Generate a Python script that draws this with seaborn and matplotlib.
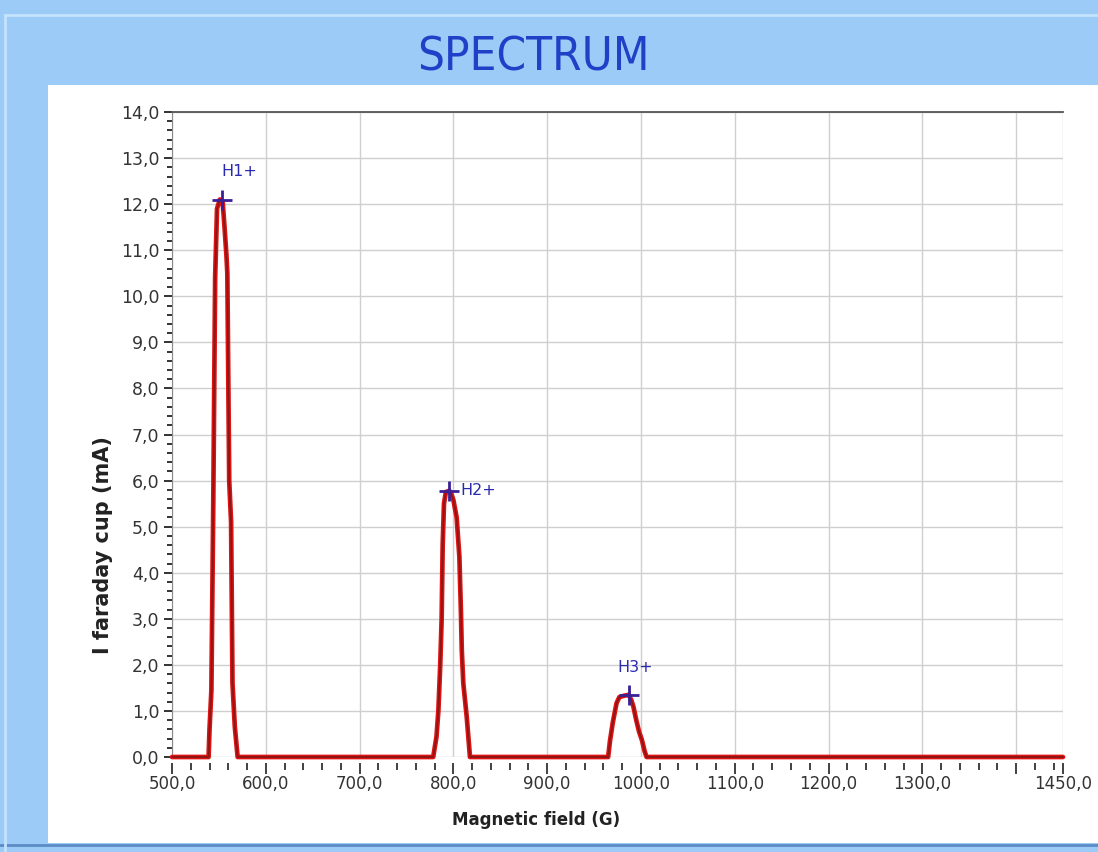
import pandas as pd
import matplotlib.pyplot as plt
import seaborn as sns
from matplotlib import font_manager
from matplotlib.patches import Rectangle
from matplotlib.lines import Line2D
from matplotlib.ticker import MultipleLocator, FuncFormatter

# spectrum trace: magnetic field (G) vs faraday cup current (mA)
field_G = [500, 539, 540, 542, 544, 546, 548, 551, 554, 556, 558, 559, 561, 563, 564.5, 567, 570,
           778.5, 782, 784, 786, 787.5, 788.6, 790, 792, 795.7, 798, 800, 803.5, 806.4, 808, 809, 810.6, 814.2, 817.7,
           965, 967, 970, 974, 977, 982, 987, 990, 992, 995, 998, 1001, 1004, 1006, 1450]
current_mA = [0, 0, 0.6, 1.45, 5.5, 10.4, 11.9, 12.1, 12.05, 11.5, 10.9, 10.5, 6.0, 5.1, 1.6, 0.65, 0,
              0, 0.44, 1.0, 2.0, 3.0, 4.6, 5.5, 5.75, 5.78, 5.7, 5.58, 5.2, 4.35, 3.2, 2.3, 1.6, 0.88, 0,
              0, 0.35, 0.75, 1.17, 1.3, 1.33, 1.35, 1.22, 1.09, 0.8, 0.55, 0.37, 0.12, 0, 0]

peak_field = [553, 795.7, 987.6]
peak_current = [12.1, 5.78, 1.35]
peak_names = ['H1+', 'H2+', 'H3+']

x_major = [500, 600, 700, 800, 900, 1000, 1100, 1200, 1300, 1400, 1450]
x_labels = ['500,0', '600,0', '700,0', '800,0', '900,0', '1000,0', '1100,0', '1200,0', '1300,0', '', '1450,0']

df = pd.DataFrame({'field': field_G, 'current': current_mA})

sns.set_style('white')
plt.rcParams['font.family'] = ['DejaVu Sans']

# pick a narrow face for the title if one is installed
fonts = font_manager.fontManager.ttflist
title_kw = dict(family='DejaVu Sans', fontsize=30)
if any(f.name == 'Liberation Sans Narrow' for f in fonts):
    title_kw = dict(family='Liberation Sans Narrow', fontsize=36)
elif any(f.name == 'DejaVu Sans' and f.stretch == 'condensed' for f in fonts):
    title_kw = dict(family='DejaVu Sans', fontstretch='condensed', fontsize=34)

W, H = 1098, 852
fig = plt.figure(figsize=(W / 100, H / 100), dpi=100)
fig.patch.set_facecolor('#9dcbf7')

# white inner panel + frame lines
fig.add_artist(Rectangle((48 / W, 1 - 843 / H), (W - 48) / W, (843 - 85) / H,
                         transform=fig.transFigure, facecolor='white', edgecolor='none', zorder=0))
fig.add_artist(Line2D([0, 1], [1 - 845 / H] * 2, transform=fig.transFigure, color='#5b8cc4', lw=2))
fig.add_artist(Line2D([0.005, 1], [1 - 15 / H] * 2, transform=fig.transFigure, color='#c4e3fd', lw=2))
fig.add_artist(Line2D([5 / W] * 2, [0, 1 - 15 / H], transform=fig.transFigure, color='#c4e3fd', lw=2))

fig.text(533 / W, 1 - 58 / H, 'SPECTRUM', ha='center', va='center', color='#2140c8', **title_kw)

ax = fig.add_axes([172 / W, 1 - 757 / H, (1063 - 172) / W, (757 - 112) / H])
ax.set_facecolor('white')

sns.lineplot(data=df, x='field', y='current', sort=False, estimator=None,
             color='#e01212', lw=3.4, ax=ax, zorder=3)
sns.lineplot(data=df, x='field', y='current', sort=False, estimator=None,
             color='#8a1616', lw=1.3, ax=ax, zorder=4)
for ln in ax.get_lines():
    ln.set_clip_on(False)

ax.plot(peak_field, peak_current, ls='none', marker='+', ms=14, mew=2, color='#3a1f96', zorder=5)
label_offsets = [((0, 28), 'left'), ((11, 0), 'left'), ((6, 27), 'center')]
for x, y, name, (off, ha) in zip(peak_field, peak_current, peak_names, label_offsets):
    ax.annotate(name, (x, y), xytext=off, textcoords='offset pixels', ha=ha, va='center',
                color='#2a2ab0', fontsize=11.5)

ax.set_xlim(500, 1450)
ax.set_ylim(0, 14)
ax.set_xticks(x_major)
ax.set_xticklabels(x_labels)
ax.xaxis.set_minor_locator(MultipleLocator(20))
ax.yaxis.set_major_locator(MultipleLocator(1))
ax.yaxis.set_minor_locator(MultipleLocator(0.2))
ax.yaxis.set_major_formatter(FuncFormatter(lambda v, p: f'{v:.1f}'.replace('.', ',')))

ax.grid(True, which='major', color='#cfcfcf', lw=1)
ax.set_axisbelow(True)

ax.spines['top'].set_color('#555555')
ax.spines['top'].set_linewidth(1.3)
ax.spines['left'].set_color('#8a8a8a')
ax.spines['right'].set_visible(False)
ax.spines['bottom'].set_visible(False)
ax.spines['bottom'].set_position(('outward', 4))

ax.tick_params(axis='x', which='major', direction='out', length=8, width=1.3, color='#333333',
               labelsize=12, pad=1, bottom=True, labelcolor='#333333')
ax.tick_params(axis='x', which='minor', direction='out', length=5, width=1.3, color='#333333', bottom=True)
ax.tick_params(axis='y', which='major', direction='out', length=6, width=1.4, color='#333333',
               labelsize=12.5, pad=3, left=True, labelcolor='#333333')
ax.tick_params(axis='y', which='minor', direction='out', length=3.5, width=1.4, color='#333333', left=True)

ax.set_xlabel('')
ax.set_ylabel('')
fig.text(536 / W, 1 - 820 / H, 'Magnetic field (G)', ha='center', va='center',
         fontsize=12, fontweight='bold', color='#222222')
fig.text(103 / W, 1 - 545 / H, 'I faraday cup (mA)', ha='center', va='center', rotation=90,
         fontsize=15, fontweight='bold', color='#222222')

fig.savefig('out.png', dpi=100)
